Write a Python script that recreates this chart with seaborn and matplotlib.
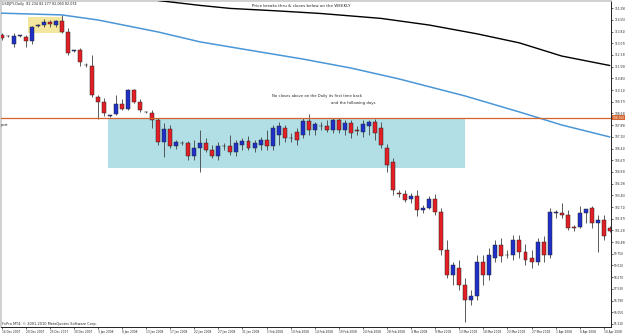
import matplotlib
matplotlib.use("Agg")
import matplotlib.pyplot as plt
from matplotlib.patches import Rectangle
import numpy as np
import pandas as pd
import seaborn as sns

# USDJPY daily candles (one per trading day incl. Sunday bars)
opens = [113.59, 113.53, 113.02, 113.53, 113.47, 113.21, 114.16, 114.22, 114.41, 114.22,
         114.48, 113.78, 112.58, 112.64, 111.69, 111.63, 109.67, 109.35, 108.47, 108.60,
         109.23, 108.91, 110.11, 109.35, 108.72, 108.66, 108.22, 106.82, 107.65, 106.57,
         106.76, 106.76, 105.94, 106.45, 106.76, 106.32, 105.94, 106.57, 106.57, 106.19,
         106.63, 106.89, 106.45, 106.63, 106.95, 106.57, 107.27, 107.71, 107.08, 107.46,
         107.27, 108.15, 107.58, 107.84, 107.84, 107.58, 108.22, 107.58, 108.03, 107.58,
         107.46, 107.84, 108.09, 107.71, 106.45, 105.56, 103.60, 103.54, 103.22, 103.41,
         102.53, 102.65, 103.22, 102.40, 100.00, 98.42, 98.86, 97.78, 96.84, 97.09,
         99.24, 98.42, 99.49, 100.31, 99.68, 99.68, 100.63, 99.87, 99.49, 99.24,
         100.50, 99.68, 102.34, 102.36, 102.21, 101.45, 101.45, 102.36, 102.63, 101.72,
         101.90, 101.39]
highs = [113.72, 113.59, 113.72, 113.59, 113.59, 114.16, 114.29, 114.60, 114.54, 114.54,
         114.86, 114.03, 112.64, 112.77, 111.82, 112.33, 109.80, 109.61, 108.53, 109.80,
         109.54, 110.18, 110.18, 109.54, 108.79, 108.85, 108.34, 108.03, 107.90, 106.95,
         106.89, 106.89, 106.95, 107.58, 107.08, 106.63, 106.82, 106.76, 107.27, 106.95,
         107.08, 107.20, 106.95, 107.14, 107.58, 107.90, 108.09, 107.90, 107.39, 107.71,
         108.34, 108.60, 108.09, 108.09, 108.22, 108.34, 108.34, 108.22, 108.22, 107.84,
         108.22, 108.22, 108.28, 108.09, 106.70, 105.81, 103.79, 103.79, 103.60, 103.79,
         102.84, 103.41, 103.54, 102.65, 100.63, 99.24, 99.37, 98.23, 97.47, 99.68,
         99.68, 100.12, 100.63, 100.76, 100.00, 100.95, 100.95, 100.38, 100.00, 100.76,
         100.88, 102.65, 102.53, 102.97, 102.53, 101.58, 102.78, 102.59, 102.78, 102.21,
         102.21, 101.52]
lows = [113.28, 113.47, 112.83, 113.47, 112.83, 113.02, 114.10, 114.10, 114.10, 114.10,
        113.72, 112.33, 112.52, 111.63, 111.57, 109.67, 108.28, 108.47, 108.41, 108.53,
        108.85, 108.85, 109.29, 108.72, 108.66, 107.71, 106.63, 105.88, 106.45, 106.38,
        106.63, 105.69, 105.69, 104.93, 106.19, 105.81, 105.69, 106.32, 106.00, 105.94,
        106.32, 106.32, 106.19, 106.32, 106.32, 106.32, 106.63, 106.82, 106.82, 106.63,
        107.08, 107.27, 107.27, 107.58, 107.46, 107.39, 107.39, 107.27, 107.08, 107.27,
        107.14, 107.27, 106.95, 106.45, 104.93, 103.47, 103.35, 103.03, 102.97, 102.15,
        102.34, 102.59, 102.21, 99.68, 98.23, 97.78, 97.47, 95.44, 96.52, 96.84,
        97.78, 98.10, 99.24, 99.24, 99.49, 99.37, 99.49, 99.05, 98.86, 99.05,
        99.24, 99.49, 102.02, 102.02, 101.26, 101.20, 101.39, 101.71, 101.41, 99.89,
        100.63, 101.14]
closes = [113.40, 113.51, 113.53, 113.56, 113.21, 114.10, 114.22, 114.41, 114.29, 114.48,
          113.78, 112.45, 112.61, 111.88, 111.67, 109.80, 109.35, 108.66, 108.50, 109.23,
          108.91, 110.11, 109.35, 108.85, 108.74, 108.22, 106.82, 107.65, 106.57, 106.82,
          106.78, 105.94, 106.45, 106.76, 106.32, 105.94, 106.57, 106.55, 106.19, 106.76,
          106.89, 106.45, 106.76, 106.95, 106.57, 107.71, 107.84, 107.08, 107.06, 106.95,
          108.15, 107.58, 107.96, 107.82, 107.58, 108.22, 107.58, 108.03, 107.39, 107.52,
          107.96, 108.09, 107.39, 106.63, 105.37, 103.79, 103.54, 103.16, 103.41, 102.53,
          102.65, 103.22, 102.40, 100.00, 98.42, 99.05, 97.78, 96.84, 97.09, 99.24,
          98.42, 99.68, 100.31, 99.62, 99.66, 100.63, 99.87, 99.37, 99.24, 100.50,
          99.68, 102.40, 102.40, 102.21, 101.39, 101.39, 102.34, 102.57, 101.72, 101.90,
          100.88, 101.20]

# moving averages, read at a handful of bars
slow_ma_bars = [26, 33, 38, 46, 53, 63, 71, 79, 86, 93, 101]
slow_ma = [115.77, 115.46, 115.27, 115.11, 114.95, 114.64, 114.22, 113.66, 113.09, 112.26, 111.66]
fast_ma_bars = [0, 10, 16, 26, 33, 41, 50, 58, 66, 77, 86, 93, 101]
fast_ma = [114.97, 114.86, 114.54, 113.78, 113.15, 112.64, 112.07, 111.50, 110.81, 109.73,
           108.72, 107.90, 107.14]

support_level = 108.36

date_labels = ["16 Dec 2007", "20 Dec 2007", "25 Dec 2007", "30 Dec 2007", "3 Jan 2008",
               "8 Jan 2008", "13 Jan 2008", "17 Jan 2008", "22 Jan 2008", "27 Jan 2008",
               "31 Jan 2008", "5 Feb 2008", "10 Feb 2008", "14 Feb 2008", "19 Feb 2008",
               "24 Feb 2008", "28 Feb 2008", "4 Mar 2008", "9 Mar 2008", "13 Mar 2008",
               "18 Mar 2008", "23 Mar 2008", "27 Mar 2008", "1 Apr 2008", "6 Apr 2008",
               "10 Apr 2008"]
price_ticks = [95.31, 96.05, 96.79, 97.53, 98.27, 99.01, 99.75, 100.49, 101.23, 101.97,
               102.71, 103.45, 104.19, 104.93, 105.67, 106.41, 107.15, 107.89, 108.63,
               109.37, 110.11, 110.85, 111.59, 112.33, 113.07, 113.81, 114.55, 115.29]

W, H = 625, 334


def fx(x):
    return x / W


def fy(y):
    return 1 - y / H


sns.set_style("white")
fig = plt.figure(figsize=(6.25, 3.34), dpi=100)
ax = fig.add_axes([fx(1), 7 / H, 610 / W, 326 / H])

df = pd.DataFrame({"open": opens, "high": highs, "low": lows, "close": closes})
df["bar"] = np.arange(len(df))
up = df["close"] >= df["open"]
colors = np.where(up, "#1f2fc9", "#e31e24")

# background boxes
ax.add_patch(Rectangle((17.7, 105.18), 59.3, 3.16, facecolor="#b2dfe6", edgecolor="none", zorder=1))
ax.add_patch(Rectangle((4.4, 113.72), 5.65, 1.01, facecolor="#f3e69e", edgecolor="none", zorder=1))

# candles
ax.vlines(df["bar"], df["low"], df["high"], color="#404040", lw=0.6, zorder=2)
body = (df["close"] - df["open"]).abs().clip(lower=0.02)
ax.bar(df["bar"], body, bottom=df[["open", "close"]].min(axis=1), width=0.66,
       color=colors, edgecolor="#2a2a2a", linewidth=0.35, zorder=3)

# moving averages and support line
sns.lineplot(x=slow_ma_bars, y=slow_ma, color="black", lw=1.0, ax=ax, zorder=4)
sns.lineplot(x=fast_ma_bars, y=fast_ma, color="#4a96d6", lw=1.1, ax=ax, zorder=4)
ax.axhline(support_level, color="#d2642d", lw=0.9, zorder=4)

ax.set_xlim(-0.1, 101.2)
ax.set_ylim(95.12, 115.74)

ax.set_xticks(range(0, 101, 4))
ax.set_xticklabels(date_labels, fontsize=2.1, ha="left")
ax.yaxis.tick_right()
ax.set_yticks(price_ticks)
ax.set_yticklabels([f"{v:.3f}" for v in price_ticks], fontsize=2.1)
ax.tick_params(axis="x", length=1.5, width=0.5, pad=0.6, bottom=True)
ax.tick_params(axis="y", length=1.5, width=0.5, pad=0.8, right=True, left=False)

for side in ["bottom", "right"]:
    ax.spines[side].set_color("#222222")
    ax.spines[side].set_linewidth(0.7)
for side in ["top", "left"]:
    ax.spines[side].set_color("#c8c8c8")
    ax.spines[side].set_linewidth(1.2)

ax.text(1.002, support_level, f"{support_level:.3f}", transform=ax.get_yaxis_transform(),
        fontsize=2.1, color="white", ha="left", va="center", clip_on=False,
        bbox=dict(boxstyle="square,pad=0.2", fc="#d2642d", ec="none"))

# annotations
fig.text(fx(2), fy(4), "USDJPY,Daily  82.234 82.277 82.060 82.074", fontsize=2.4, va="center")
fig.text(fx(301), fy(6.3), "Price breaks thru & closes below on the WEEKLY", fontsize=3,
         ha="center", va="center")
fig.text(fx(317.5), fy(96), "No closes above on the Daily its first time back", fontsize=2.7,
         ha="center", va="center")
fig.text(fx(353.5), fy(103.3), "and the following days", fontsize=2.8, ha="center", va="center")
fig.text(fx(2), fy(324), "FxPro MT4, \u00a9 2001-2010 MetaQuotes Software Corp.", fontsize=2.5,
         va="center")
fig.text(fx(1), fy(125), "port", fontsize=2.6, va="center")

fig.savefig("out.png", dpi=100)
